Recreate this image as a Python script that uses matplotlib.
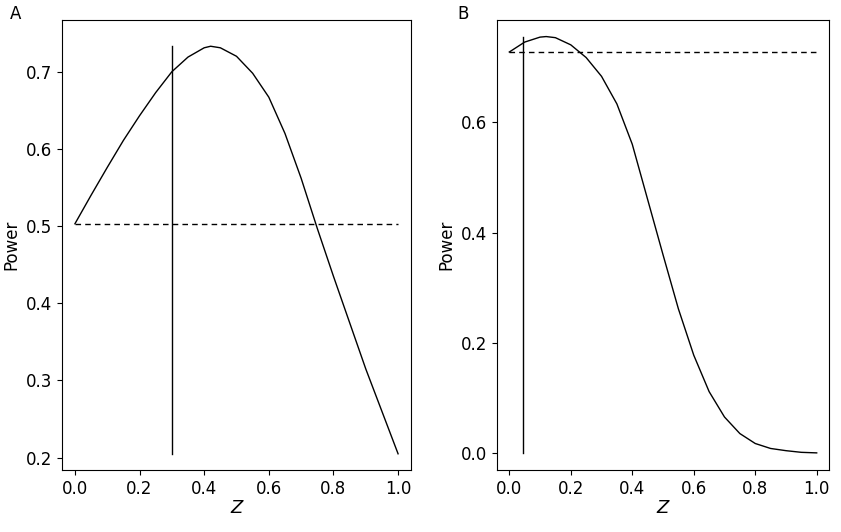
import matplotlib
matplotlib.use("Agg")
import matplotlib.pyplot as plt
import numpy as np

za = [0.0,0.05,0.1,0.15,0.2,0.25,0.3,0.35,0.4,0.42,0.45,0.5,0.55,0.6,0.65,0.7,0.75,0.8,0.85,0.9,0.95,1.0]
pa = [0.503,0.540,0.576,0.611,0.643,0.673,0.700,0.719,0.731,0.733,0.731,0.720,0.698,0.667,0.620,0.562,0.497,0.435,0.375,0.315,0.260,0.205]
zb = [0.0,0.05,0.1,0.12,0.15,0.2,0.25,0.3,0.35,0.4,0.45,0.5,0.55,0.6,0.65,0.7,0.75,0.8,0.85,0.9,0.95,1.0]
pb = [0.727,0.745,0.754,0.755,0.753,0.740,0.717,0.683,0.633,0.560,0.460,0.360,0.262,0.178,0.112,0.066,0.036,0.018,0.009,0.005,0.002,0.001]
vline_a, href_a = 0.3, 0.503
vline_b, href_b = 0.045, 0.727

fig = plt.figure(figsize=(8.41,5.32), dpi=100)
axA = fig.add_axes([62/841, 62/532, 349/841, 450/532])
axB = fig.add_axes([497/841, 62/532, 332/841, 450/532])
for ax, z, p, v, h, lab, yt in [(axA, za, pa, vline_a, href_a, "A", [0.2,0.3,0.4,0.5,0.6,0.7]),
                                 (axB, zb, pb, vline_b, href_b, "B", [0.0,0.2,0.4,0.6])]:
    ax.plot(z, p, color="black", lw=1)
    ax.plot([0,1],[h,h], color="black", lw=1, ls=(0,(4,3)))
    ax.plot([v,v],[min(p),max(p)], color="black", lw=1)
    ax.set_xlim(-0.04,1.04)
    ax.set_xticks([0,0.2,0.4,0.6,0.8,1.0])
    ax.set_yticks(yt)
    ax.tick_params(labelsize=12)
    ax.set_xlabel("Z", fontsize=13, style="italic", labelpad=1)
    ax.set_ylabel("Power", fontsize=12)
    fig.text(ax.get_position().x0 - (52 if lab=="A" else 40)/841, 0.965, lab, fontsize=12)
axA.set_ylim(0.184, 0.767)
axB.set_ylim(-0.03, 0.785)
fig.savefig("out.png")
